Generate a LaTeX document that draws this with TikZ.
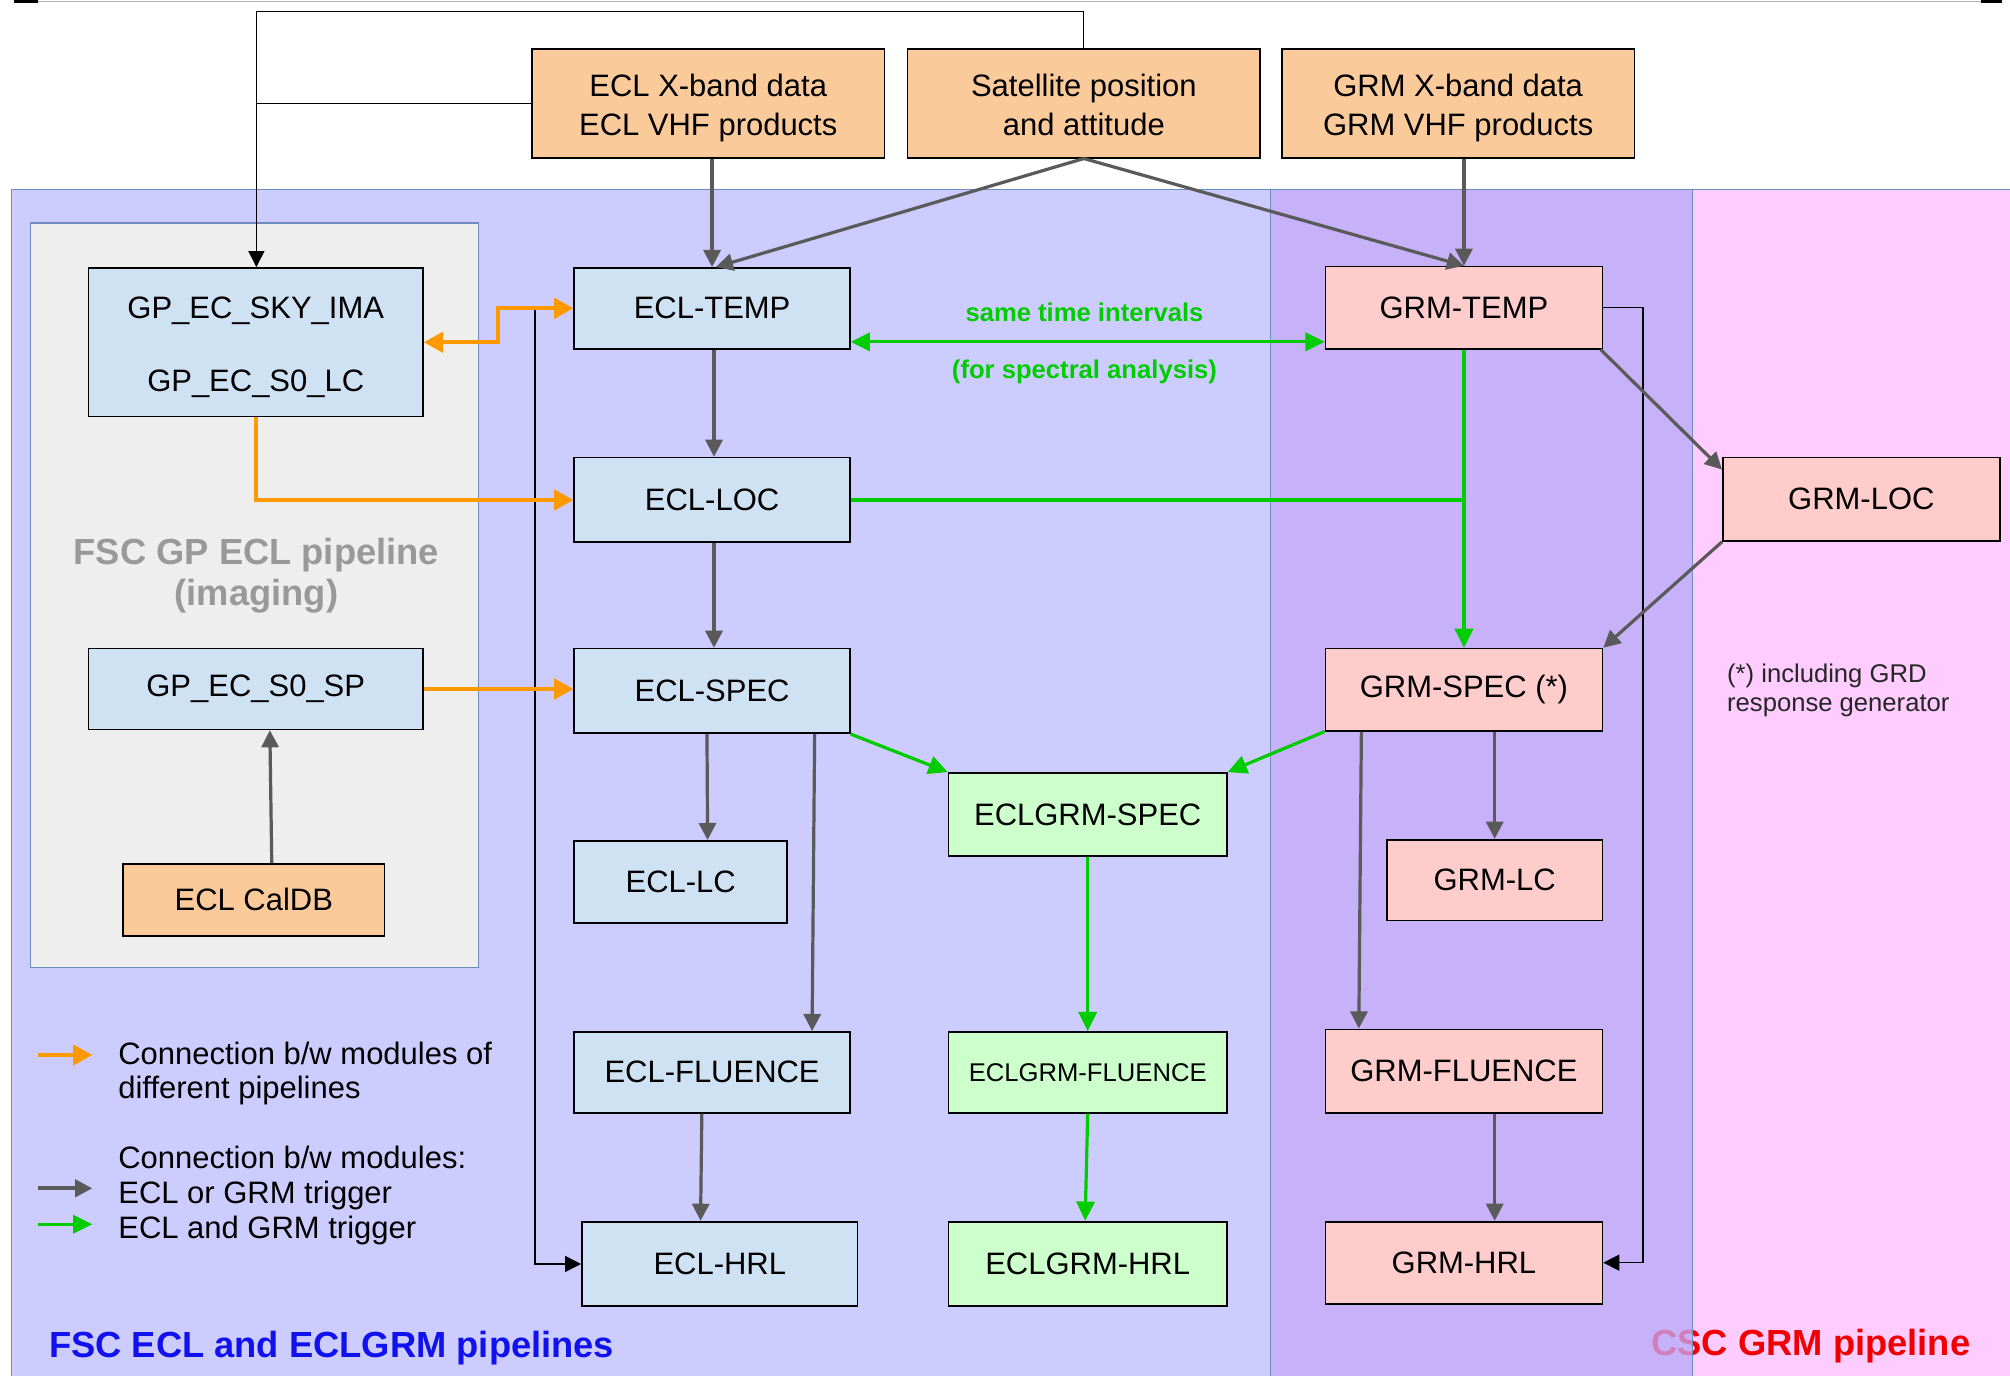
\documentclass[tikz,border=0pt]{standalone}
\usepackage{fontspec}
\setmainfont{Liberation Sans}
\usetikzlibrary{arrows.meta,calc}
\definecolor{bgblue}{RGB}{204,204,255}
\definecolor{bgpurple}{RGB}{198,170,248}
\definecolor{bgpink}{RGB}{255,204,255}
\definecolor{regline}{RGB}{108,142,191}
\definecolor{boxblue}{RGB}{207,226,243}
\definecolor{boxorange}{RGB}{250,202,154}
\definecolor{boxpink}{RGB}{255,204,204}
\definecolor{boxgreen}{RGB}{204,255,204}
\definecolor{boxgray}{RGB}{238,238,238}
\definecolor{arrgray}{RGB}{90,90,90}
\definecolor{arrgreen}{RGB}{0,204,0}
\definecolor{arrorange}{RGB}{255,153,0}
\definecolor{ttlgray}{RGB}{153,153,153}
\definecolor{ttlblue}{RGB}{17,17,238}
\definecolor{ttlred}{RGB}{240,0,0}
\newcommand{\bx}[7]{\node[bxs,fill=#6,minimum width={(#4-#2)*0.6pt},minimum height={(#5-#3)*0.6pt}] (#1) at ({(#2+#4)/2},{(#3+#5)/2}) {#7};}
\newcommand{\tstrut}{\rule{0pt}{17.4pt}}
\begin{document}
\begin{tikzpicture}[x=0.6pt,y=-0.6pt,
  bxs/.style={draw=black,line width=0.8pt,inner sep=0pt,align=center,font=\fontsize{14.5}{18}\selectfont},
  garr/.style={draw=arrgray,line width=1.5pt,-{Triangle[length=8pt,width=8pt]}},
  grarr/.style={draw=arrgreen,line width=1.5pt,-{Triangle[length=9pt,width=8.5pt]}},
  grline/.style={draw=arrgreen,line width=1.5pt},
  oarr/.style={draw=arrorange,line width=1.8pt,-{Triangle[length=9pt,width=9.5pt]}},
  barr/.style={draw=black,line width=0.6pt,-{Triangle[length=7.5pt,width=7.5pt]}},
  bline/.style={draw=black,line width=0.6pt},
  lgd/.style={anchor=west,align=left,inner sep=0pt}]
\useasboundingbox (0,0) rectangle (1568,1073);
% backgrounds
\fill[white] (0,0) rectangle (1568,1073);
\draw[gray!60,line width=0.6pt] (30,1) -- (1545,1);
\fill[black] (11,0) rectangle (30,2.5);
\fill[black] (1545,0) rectangle (1562,2.5);
\fill[bgblue] (9,148) rectangle (1320,1080);
\fill[bgpink] (1320,148) rectangle (1575,1080);
\node[anchor=west,inner sep=0pt,text=ttlred,font=\fontsize{17}{20}\bfseries\selectfont] (csc) at (1288,1050) {CSC GRM pipeline};
\fill[bgpurple,opacity=0.75] (991,148) rectangle (1320,1080);
\draw[regline,line width=0.5pt] (9,1080) -- (9,148) -- (1575,148);
\draw[regline,line width=0.5pt] (991,148) -- (991,1080);
\draw[regline,line width=0.5pt] (1320,148) -- (1320,1080);
\draw[regline,line width=0.6pt,fill=boxgray] (24,174) rectangle (373,755);
\node[align=center,text=ttlgray,font=\fontsize{17}{19.2}\bfseries\selectfont] (gptitle) at (200,449) {FSC GP ECL pipeline\\(imaging)};
\node[anchor=west,inner sep=0pt,text=ttlblue,font=\fontsize{17}{20}\bfseries\selectfont] (fsc) at (38,1052) {FSC ECL and ECLGRM pipelines};
% boxes
\bx{ECLX}{415}{38}{690}{123}{boxorange}{\tstrut ECL X-band data\\\strut ECL VHF products}
\bx{SAT}{708}{38}{983}{123}{boxorange}{\tstrut Satellite position\\\strut and attitude}
\bx{GRMX}{1000}{38}{1275}{123}{boxorange}{\tstrut GRM X-band data\\\strut GRM VHF products}
\bx{GPSKY}{69}{209}{330}{325}{boxblue}{\tstrut GP\_EC\_SKY\_IMA\\[16.5pt]\strut GP\_EC\_S0\_LC}
\bx{ECLTEMP}{448}{209}{663}{272}{boxblue}{ECL-TEMP}
\bx{GRMTEMP}{1034}{208}{1250}{272}{boxpink}{GRM-TEMP}
\bx{ECLLOC}{448}{357}{663}{423}{boxblue}{ECL-LOC}
\bx{GRMLOC}{1344}{357}{1560}{422}{boxpink}{GRM-LOC}
\bx{GPSP}{69}{506}{330}{569}{boxblue}{GP\_EC\_S0\_SP}
\bx{CALDB}{96}{674}{300}{730}{boxorange}{ECL CalDB}
\bx{ECLSPEC}{448}{506}{663}{572}{boxblue}{ECL-SPEC}
\bx{GRMSPEC}{1034}{506}{1250}{570}{boxpink}{GRM-SPEC (*)}
\bx{EGSPEC}{740}{603}{957}{668}{boxgreen}{ECLGRM-SPEC}
\bx{ECLLC}{448}{656}{614}{720}{boxblue}{ECL-LC}
\bx{GRMLC}{1082}{655}{1250}{718}{boxpink}{GRM-LC}
\bx{ECLFLU}{448}{805}{663}{868}{boxblue}{ECL-FLUENCE}
\bx{EGFLU}{740}{805}{957}{868}{boxgreen}{\fontsize{12}{14}\selectfont ECLGRM-FLUENCE}
\bx{GRMFLU}{1034}{803}{1250}{868}{boxpink}{GRM-FLUENCE}
\bx{ECLHRL}{454}{953}{669}{1019}{boxblue}{ECL-HRL}
\bx{EGHRL}{740}{953}{957}{1019}{boxgreen}{ECLGRM-HRL}
\bx{GRMHRL}{1034}{953}{1250}{1017}{boxpink}{GRM-HRL}
% note
\node[lgd,font=\fontsize{12}{13.8}\selectfont,text=black!85] (note) at (1347,538.5) {(*) including GRD\\response generator};
% top bracket
\coordinate (tl) at (200,9);
\draw[bline] (SAT.north) |- (tl);
\draw[barr] (tl) -- (tl |- GPSKY.north);
\draw[bline] (ECLX.west) -- (ECLX.west -| tl);
% inputs
\draw[garr] (ECLX.south -| ECLTEMP.north) -- (ECLTEMP.north);
\draw[garr] (SAT.south) -- ($(ECLTEMP.north)+(3,0)$);
\draw[garr] (SAT.south) -- (GRMTEMP.north);
\draw[garr] (GRMX.south -| GRMTEMP.north) -- (GRMTEMP.north);
% black long connectors
\draw[barr] ($(ECLTEMP.west)+(-30,1)$) |- (ECLHRL.west);
\draw[barr] (GRMTEMP.east) -- ++(31,0) |- (GRMHRL.east);
% orange
\draw[oarr,{Triangle[length=9pt,width=9.5pt]}-{Triangle[length=9pt,width=9.5pt]}] (GPSKY.east) -- ++(58,0) |- (ECLTEMP.west);
\draw[oarr] (GPSKY.south) |- (ECLLOC.west);
\draw[oarr] (GPSP.east) -- (GPSP.east -| ECLSPEC.west);
% green
\draw[grarr,{Triangle[length=9pt,width=8.5pt]}-{Triangle[length=9pt,width=8.5pt]}] ($(ECLTEMP.south east)+(0,-6)$) -- ($(GRMTEMP.south west)+(0,-6)$);
\node[text=arrgreen,font=\fontsize{12}{14}\bfseries\selectfont] (sti) at (846,244) {same time intervals};
\node[text=arrgreen,font=\fontsize{12}{14}\bfseries\selectfont] (fsa) at (846,290) {(for spectral analysis)};
\draw[grline] (ECLLOC.east) -- (ECLLOC.east -| GRMTEMP.south);
\draw[grarr] (GRMTEMP.south) -- (GRMSPEC.north);
\draw[grarr] (ECLSPEC.south east) -- (EGSPEC.north west);
\draw[grarr] (GRMSPEC.south west) -- (EGSPEC.north east);
\draw[grarr] (EGSPEC.south) -- (EGFLU.north);
\draw[grarr] (EGFLU.south) -- ($(EGHRL.north)+(-2,0)$);
% gray chain
\draw[garr] ($(ECLTEMP.south)+(1.5,0)$) -- ($(ECLLOC.north)+(1.5,0)$);
\draw[garr] ($(ECLLOC.south)+(1.5,0)$) -- ($(ECLSPEC.north)+(1.5,0)$);
\draw[garr] ($(CALDB.north)+(14,0)$) -- ($(GPSP.south)+(11,0)$);
\draw[garr] ($(GRMTEMP.south east)+(-2,0)$) -- ($(GRMLOC.north west)+(0,10)$);
\draw[garr] (GRMLOC.south west) -- (GRMSPEC.north east);
\draw[garr] ($(ECLSPEC.south)+(-4,0)$) -- ($(ECLLC.north)+(21,0)$);
\draw[garr] ($(ECLSPEC.south)+(80,0)$) -- ($(ECLFLU.north)+(78,0)$);
\draw[garr] (GRMSPEC.south -| GRMLC.north) -- (GRMLC.north);
\draw[garr] ($(GRMSPEC.south)+(-80,0)$) -- ($(GRMFLU.north)+(-82,0)$);
\draw[garr] ($(ECLFLU.south)+(-8,0)$) -- ($(ECLHRL.north)+(-15,0)$);
\draw[garr] ($(GRMFLU.south)+(24,0)$) -- ($(GRMHRL.north)+(24,0)$);
% legend
\coordinate (l1a) at (30,823); \coordinate (l1b) at (72,823);
\coordinate (l2a) at (30,927); \coordinate (l2b) at (72,927);
\coordinate (l3a) at (30,955); \coordinate (l3b) at (72,955);
\draw[oarr] (l1a) -- (l1b);
\draw[garr,line width=1.8pt] (l2a) -- (l2b);
\draw[grarr] (l3a) -- (l3b);
\node[lgd,font=\fontsize{14.5}{16.2}\selectfont] (leg1) at (92,837.5) {Connection b/w modules of\\different pipelines};
\node[lgd,font=\fontsize{14.5}{16.5}\selectfont] (leg2) at (92,932.5) {Connection b/w modules:\\ECL or GRM trigger\\ECL and GRM trigger};
\end{tikzpicture}
\end{document}
